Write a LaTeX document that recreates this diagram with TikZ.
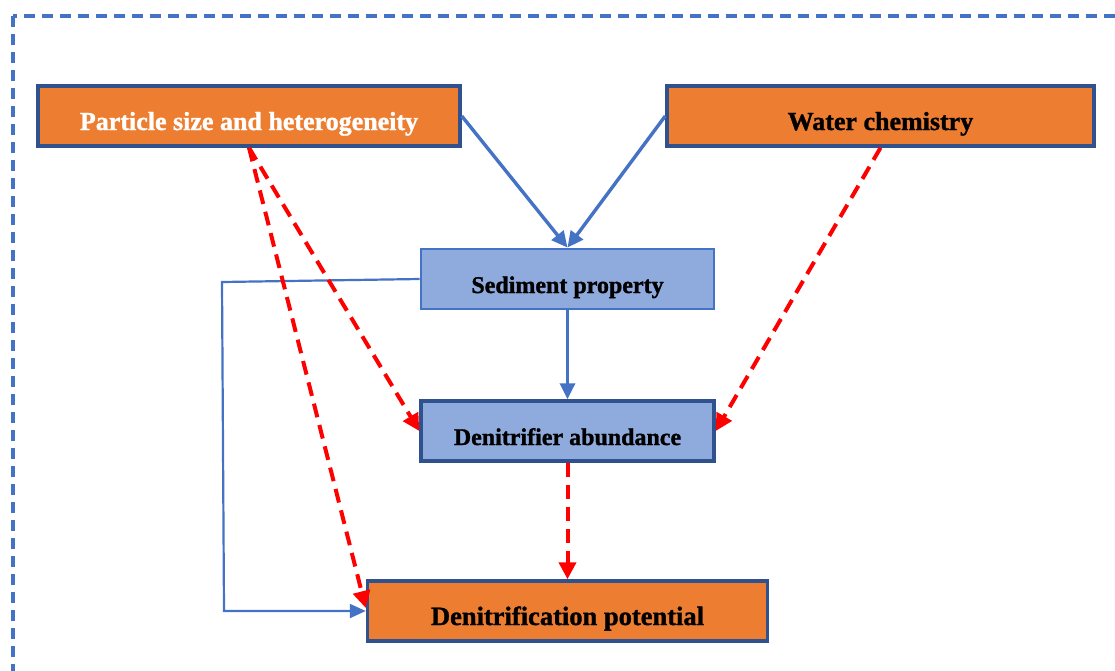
\documentclass[tikz,border=0pt]{standalone}
\usepackage{fontspec}
\setmainfont{Liberation Serif}[BoldFeatures={FakeBold=1.2}]
\usetikzlibrary{arrows.meta,calc}
\definecolor{orng}{HTML}{ED7D31}
\definecolor{dkblue}{HTML}{2F528F}
\definecolor{mdblue}{HTML}{4472C4}
\definecolor{ltblue}{HTML}{8FAADC}
\definecolor{rd}{HTML}{FF0000}
\begin{document}
\begin{tikzpicture}[x=1pt,y=-1pt,
  boxbase/.style={rectangle, inner sep=0pt, minimum height=60pt, text height=28pt, text depth=0pt, align=center, font=\bfseries},
  obox/.style={boxbase, fill=orng, draw=dkblue, line width=3.5pt},
  bbox/.style={boxbase, fill=ltblue, draw=mdblue, line width=2.8pt},
  dbox/.style={boxbase, fill=ltblue, draw=dkblue, line width=3.5pt},
  bluearrow/.style={draw=mdblue, line width=3.4pt, -{Triangle[length=16pt,width=15pt]}},
  thinblue/.style={draw=mdblue, line width=2.2pt, -{Triangle[length=16pt,width=14pt]}},
  redarrow/.style={draw=rd, line width=4pt, dash pattern=on 14pt off 8pt, -{Triangle[length=17pt,width=17pt]}},
  frame/.style={draw=mdblue, line width=3.2pt, dash pattern=on 11pt off 7pt}
]
\useasboundingbox (0,0) rectangle (1115,670);
\clip (0,0) rectangle (1115,670);
\draw[frame] (13,16) rectangle (1140,700);

\node[obox, minimum width=422pt, text=white, font=\bfseries\fontsize{26}{30}\selectfont] (A) at (249,116) {Particle size and heterogeneity};
\node[obox, minimum width=427pt, font=\bfseries\fontsize{26}{30}\selectfont] (B) at (880.5,116) {Water chemistry};
\node[bbox, minimum width=293pt, font=\bfseries\fontsize{24}{28}\selectfont] (C) at (567.5,279) {Sediment property};
\node[dbox, minimum width=293pt, font=\bfseries\fontsize{24}{28}\selectfont] (D) at (567.5,431) {Denitrifier abundance};
\node[obox, minimum width=400pt, font=\bfseries\fontsize{26.5}{30}\selectfont] (E) at (567.5,611) {Denitrification potential};

\coordinate (c1) at (222,282);
\coordinate (c2) at (224,611);

\draw[bluearrow] (A.east) -- (C.north);
\draw[bluearrow] (B.west) -- (C.north);
\draw[bluearrow] (C.south) -- (D.north);
\draw[thinblue] (C.west) -- (c1) -- (c2) -- (E.west);

\draw[redarrow] (A.south) -- (D.west);
\draw[redarrow] (A.south) -- ($(E.west)+(0,-3)$);
\draw[redarrow] (B.south) -- (D.east);
\draw[redarrow] (D.south) -- (E.north);
\end{tikzpicture}
\end{document}
